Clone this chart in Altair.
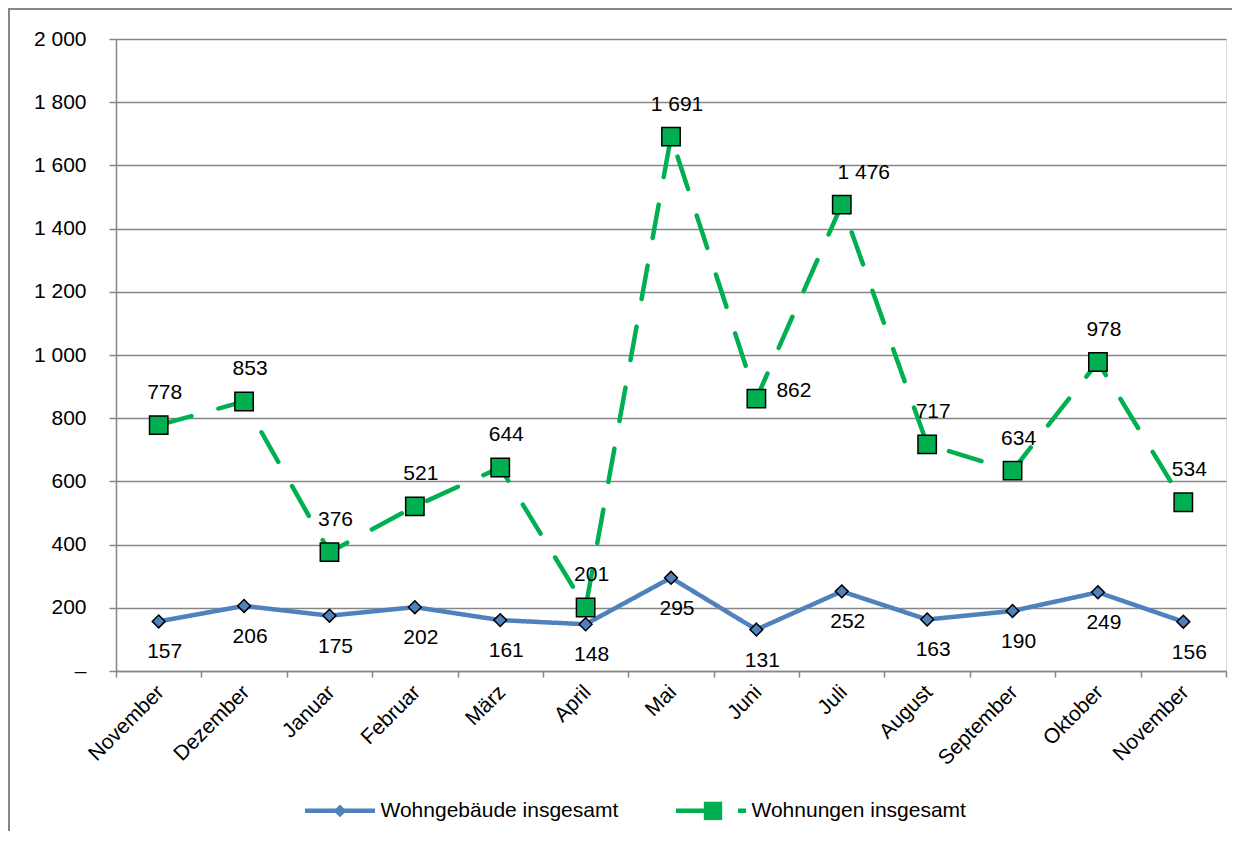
import json
import altair as alt
import pandas as pd

months = ["November", "Dezember", "Januar", "Februar", "März", "April", "Mai",
          "Juni", "Juli", "August", "September", "Oktober", "November"]
wohngebaeude = [157, 206, 175, 202, 161, 148, 295, 131, 252, 163, 190, 249, 156]
wohnungen = [778, 853, 376, 521, 644, 201, 1691, 862, 1476, 717, 634, 978, 534]
series_names = ["Wohngebäude insgesamt", "Wohnungen insgesamt"]
y_ticks = [0, 200, 400, 600, 800, 1000, 1200, 1400, 1600, 1800, 2000]

rows = []
for i, m in enumerate(months):
    rows.append({"idx": i, "month": m, "series": series_names[0],
                 "series2": series_names[0], "value": wohngebaeude[i]})
for i, m in enumerate(months):
    rows.append({"idx": i, "month": m, "series": series_names[1],
                 "series2": series_names[1], "value": wohnungen[i]})
df = pd.DataFrame(rows)

FONT = "Liberation Sans"
GRAY = "#868686"
colors = ["#4F81BD", "#00B050"]
W, H = 1110, 632

# marker paths (unit coords); the bare move-to points only widen the symbol's
# bounding box so the marker-only legend lays out like the line legend
pad = "M-1.0,0M1.0,0M0,-0.29M0,0.29"
diamond = pad + "M0,-0.175L0.175,0L0,0.175L-0.175,0Z"
square = pad + "M-0.25,-0.25L0.25,-0.25L0.25,0.25L-0.25,0.25Z"

month_js = json.dumps(months, ensure_ascii=False)

x_enc = alt.X(
    "idx:O",
    scale=alt.Scale(type="band", paddingInner=0, paddingOuter=0),
    axis=alt.Axis(
        title=None, tickBand="extent", labelExpr=f"{month_js}[datum.value]",
        labelAngle=-45, labelAlign="right", labelBaseline="top", labelOffset=-6,
        labelFontSize=21, labelFont=FONT, labelColor="black", labelPadding=4,
        tickSize=6, tickColor=GRAY, tickWidth=1.5, domainColor=GRAY,
        domainWidth=1.5, grid=False, labelLimit=300,
    ),
)
y_enc = alt.Y(
    "value:Q",
    scale=alt.Scale(domain=[0, 2000], nice=False),
    axis=alt.Axis(
        title=None, values=y_ticks,
        labelExpr="datum.value == 0 ? '–' : replace(format(datum.value, ','), ',', ' ')",
        labelFontSize=21, labelFont=FONT, labelColor="black", labelPadding=23,
        tickSize=7, tickColor=GRAY, tickWidth=1.5, domainColor=GRAY,
        domainWidth=1.5, grid=True, gridColor=GRAY, gridWidth=1.5,
    ),
)

LX, LY = 186.5, 734

legend1 = alt.Legend(
    title=None, orient="none", legendX=LX, legendY=LY, direction="horizontal",
    symbolType="stroke", symbolSize=4900, symbolStrokeWidth=4.5,
    labelFontSize=21, labelFont=FONT, labelColor="black", labelLimit=400,
    labelOffset=3, columnPadding=48,
)
legend2 = alt.Legend(
    title=None, orient="none", legendX=LX, legendY=LY, direction="horizontal",
    symbolSize=5402, symbolStrokeWidth=1.5, symbolStrokeColor="black",
    labelFontSize=21, labelFont=FONT, labelExpr="''", labelLimit=400,
    labelOffset=3, columnPadding=292,
)

base = alt.Chart(df).transform_calculate(
    label="replace(format(datum.value, ','), ',', ' ')"
)

lines = base.mark_line(strokeWidth=4.5, strokeCap="round", strokeJoin="round").encode(
    x=x_enc, y=y_enc,
    color=alt.Color("series:N", scale=alt.Scale(domain=series_names, range=colors), legend=legend1),
    strokeDash=alt.StrokeDash("series:N", scale=alt.Scale(domain=series_names, range=[[1, 0], [34, 28]]), legend=legend1),
)

points = base.mark_point(filled=True, size=5402, stroke="black", strokeWidth=1.5, opacity=1).encode(
    x=x_enc, y=y_enc,
    fill=alt.Fill("series2:N", scale=alt.Scale(domain=series_names, range=colors), legend=legend2),
    shape=alt.Shape("series2:N", scale=alt.Scale(domain=series_names, range=[diamond, square]), legend=legend2),
)

txt_props = dict(fontSize=21, font=FONT, color="black", baseline="middle")

labels_above = base.transform_filter(
    "datum.series == 'Wohnungen insgesamt' && datum.idx != 7 && datum.idx != 8"
).mark_text(dy=-32, dx=6, **txt_props).encode(x=x_enc, y=y_enc, text="label:N")

labels_above_right = base.transform_filter(
    "datum.series == 'Wohnungen insgesamt' && datum.idx == 8"
).mark_text(dy=-32, dx=22, **txt_props).encode(x=x_enc, y=y_enc, text="label:N")

labels_right = base.transform_filter(
    "datum.series == 'Wohnungen insgesamt' && datum.idx == 7"
).mark_text(dy=-8, dx=20, align="left", **txt_props).encode(x=x_enc, y=y_enc, text="label:N")

labels_below = base.transform_filter(
    "datum.series == 'Wohngebäude insgesamt'"
).mark_text(dy=31, dx=6, **txt_props).encode(x=x_enc, y=y_enc, text="label:N")

frame = alt.Chart(alt.Data(values=[{"f": 1}])).mark_rect(
    fill="transparent", stroke=GRAY, strokeWidth=2
).encode(
    x=alt.value(-107), x2=alt.value(W + 300),
    y=alt.value(-30), y2=alt.value(H + 300),
)

chart = alt.layer(
    frame, lines, points, labels_above, labels_above_right, labels_right, labels_below
).resolve_scale(
    color="independent", fill="independent", shape="independent", strokeDash="independent"
).properties(
    width=W, height=H,
    autosize=alt.AutoSizeParams(type="none"),
    padding={"left": 108, "top": 31, "right": 6, "bottom": 160},
).configure_view(stroke=None).configure(background="white")

chart.save("out.html", embed_options={"renderer": "svg", "actions": False})
